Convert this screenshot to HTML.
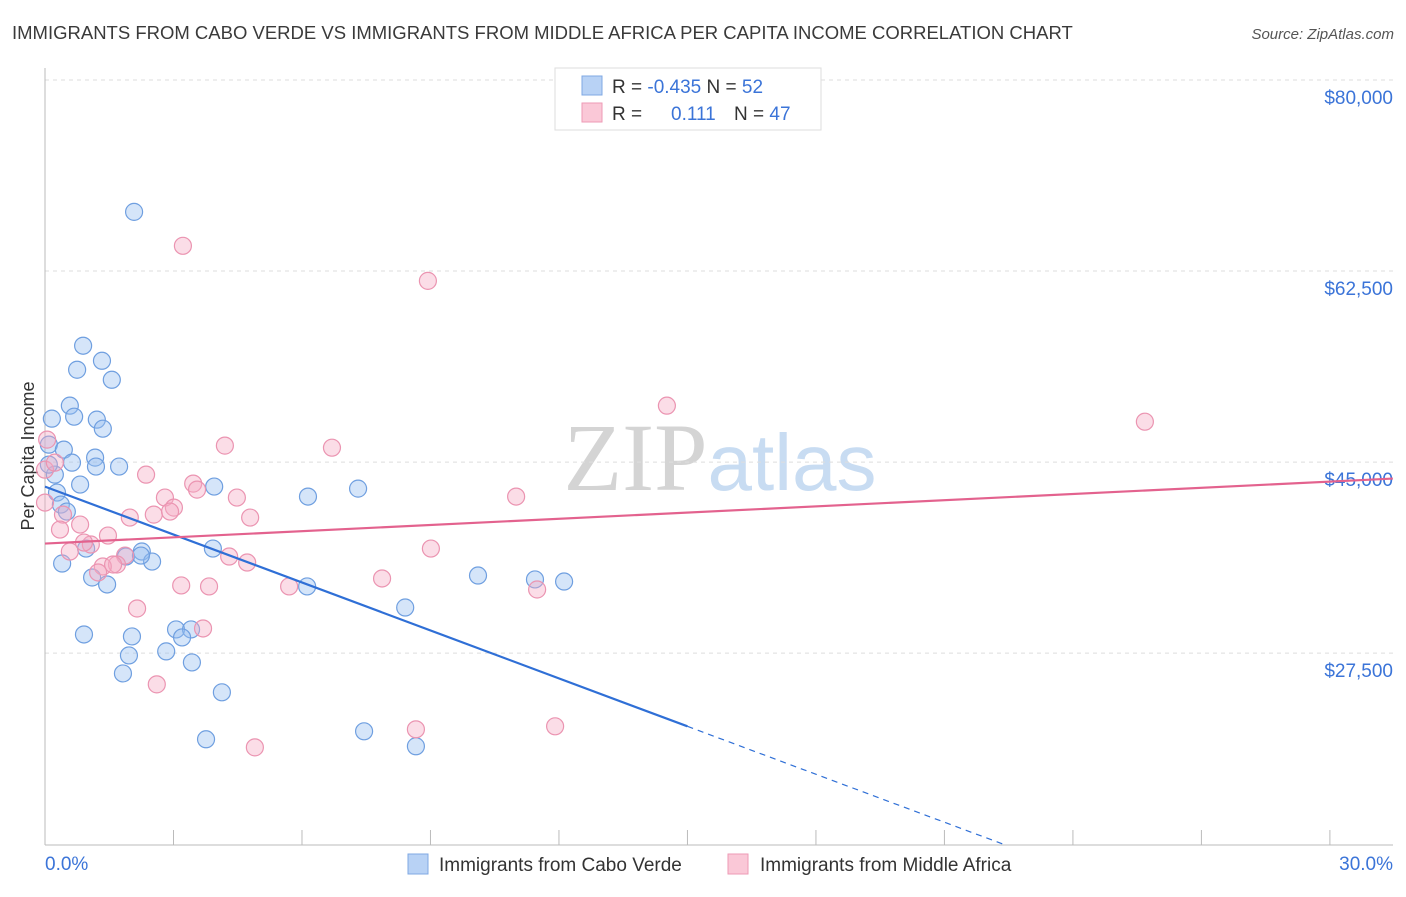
<!DOCTYPE html>
<html><head><meta charset="utf-8"><style>
body{margin:0;background:#fff;font-family:"Liberation Sans",sans-serif;}
svg text{font-family:"Liberation Sans",sans-serif;}
</style></head><body>
<svg id="chart" width="1406" height="892" viewBox="0 0 1406 892" xmlns="http://www.w3.org/2000/svg">
<text x="12" y="39" font-size="18.5" fill="#3a3a3a">IMMIGRANTS FROM CABO VERDE VS IMMIGRANTS FROM MIDDLE AFRICA PER CAPITA INCOME CORRELATION CHART</text>
<text x="1394" y="39" font-size="15" fill="#555" font-style="italic" text-anchor="end">Source: ZipAtlas.com</text>
<text x="720" y="490" font-size="96" text-anchor="middle"><tspan fill="#d4d4d4" font-family="Liberation Serif">ZIP</tspan><tspan fill="#c8dcf2" font-size="80">atlas</tspan></text>
<text transform="translate(34,456) rotate(-90)" font-size="18" fill="#333" text-anchor="middle">Per Capita Income</text>
<g id="grid"></g><g id="axes"></g><g id="pts"></g><g id="lines"></g>
<g>
<rect x="555" y="68" width="266" height="62" fill="#fff" stroke="#ddd"/>
<rect x="582" y="76" width="20" height="19" fill="#b8d2f5" stroke="#7fa8e3"/>
<rect x="582" y="103" width="20" height="19" fill="#fac8d7" stroke="#ee9ab5"/>
<text x="612" y="93" font-size="19" fill="#333">R = <tspan fill="#3b74d8">-0.435</tspan>   N = <tspan fill="#3b74d8">52</tspan></text>
<text x="612" y="120" font-size="19" fill="#333">R = <tspan fill="#3b74d8" x="671">0.111</tspan><tspan x="734">N = </tspan><tspan fill="#3b74d8">47</tspan></text>
</g>
<g>
<rect x="408" y="854" width="20" height="20" fill="#b8d2f5" stroke="#7fa8e3"/>
<text x="439" y="871" font-size="19" fill="#333">Immigrants from Cabo Verde</text>
<rect x="728" y="854" width="20" height="20" fill="#fac8d7" stroke="#ee9ab5"/>
<text x="760" y="871" font-size="19" fill="#333">Immigrants from Middle Africa</text>
</g>
</svg>
<script>
const yTicks=[80000,62500,45000,27500];
const yTickLabels=["$80,000","$62,500","$45,000","$27,500"];
const xTicks=[0,3,6,9,12,15,18,21,24,27,30];
const blueX=[2.08,0.89,1.33,0.75,1.56,0.58,0.68,0.16,1.21,1.35,0.09,0.44,0.63,1.17,1.19,1.73,0.23,0.82,0.28,0.37,0.51,0.09,6.14,7.31,3.95,0.96,3.92,1.89,2.26,2.50,0.40,1.10,1.45,2.24,6.12,10.11,11.44,12.12,8.41,0.91,2.03,3.06,3.41,3.20,1.96,2.83,3.43,1.82,4.13,3.76,7.45,8.66];
const blueY=[67920,55660,54280,53460,52540,50170,49160,48980,48890,48060,46600,46140,44950,45410,44590,44590,43850,42940,42210,41110,40470,44770,41840,42570,42760,37080,37080,36350,36810,35890,35710,34430,33790,36440,33610,34610,34250,34060,31680,29210,29030,29670,29670,28940,27290,27660,26650,25640,23910,19610,20340,18970];
const pinkX=[3.22,8.94,14.52,25.68,4.20,6.70,0.0,2.36,0.23,3.46,2.80,3.55,4.48,11.0,3.01,2.54,2.92,0.42,4.79,1.98,0.82,0.35,1.47,0.58,1.07,4.30,4.72,1.87,1.68,1.35,1.24,3.18,3.83,5.70,7.87,9.01,11.49,2.15,3.69,2.61,8.66,11.91,4.90,0.0,0.91,1.59,0.05];
const pinkY=[64810,61600,50170,48700,46510,46320,44310,43850,44950,43030,41750,42480,41750,41840,40830,40190,40470,40190,39920,39920,39280,38820,38270,36810,37450,36350,35800,36440,35620,35440,34890,33700,33610,33610,34340,37080,33330,31590,29760,24640,20520,20800,18870,41290,37630,35620,47060];
const blueFit=[42755,20795];const blueFitEnd=15;const blueDashEnd=22.4;
const pinkFit=[37540,43490];const pinkFitEnd=31.47;
const X=p=>45+p*42.83;
const Y=v=>80+(80000-v)/91.6;
const NS="http://www.w3.org/2000/svg";
function mk(t,a,parent){const e=document.createElementNS(NS,t);for(const k in a)e.setAttribute(k,a[k]);document.getElementById(parent).appendChild(e);return e;}
yTicks.forEach((v,i)=>{
 const l=mk('line',{x1:45,x2:1393,y1:Y(v),y2:Y(v),stroke:'#ddd','stroke-dasharray':'4,4'},'grid');
 
 
 const t=mk('text',{x:1393,y:Y(v)+24,'font-size':19,fill:'#3b74d8','text-anchor':'end'},'axes');
 t.textContent=yTickLabels[i];
 
 
});
const ax=mk('line',{x1:45,x2:45,y1:68,y2:845,stroke:'#bbb'},'axes');


const bx=mk('line',{x1:45,x2:1393,y1:845,y2:845,stroke:'#bbb'},'axes');


xTicks.forEach(p=>{
 const t=mk('line',{x1:X(p),x2:X(p),y1:830,y2:845,stroke:'#bbb'},'axes');
 
 
});
const xl0=mk('text',{x:45,y:870,'font-size':19,fill:'#3b74d8'},'axes');xl0.textContent=xTicks[0].toFixed(1)+'%';


const xl1=mk('text',{x:1393,y:870,'font-size':19,fill:'#3b74d8','text-anchor':'end'},'axes');xl1.textContent=xTicks[xTicks.length-1].toFixed(1)+'%';


blueX.forEach((p,i)=>{
 const c=mk('circle',{cx:X(p),cy:Y(blueY[i]),r:8.5,fill:'rgba(150,190,240,0.4)',stroke:'#6f9fe0','stroke-width':1.2},'pts');
 
 
});
pinkX.forEach((p,i)=>{
 const c=mk('circle',{cx:X(p),cy:Y(pinkY[i]),r:8.5,fill:'rgba(245,170,195,0.4)',stroke:'#eb94b1','stroke-width':1.2},'pts');
 
 
});
const slope=(blueFit[1]-blueFit[0])/blueFitEnd;
const bl=mk('line',{x1:X(0),y1:Y(blueFit[0]),x2:X(blueFitEnd),y2:Y(blueFit[1]),stroke:'#2f6fd6','stroke-width':2.2},'lines');


const bd=mk('line',{x1:X(blueFitEnd),y1:Y(blueFit[1]),x2:X(blueDashEnd),y2:Y(blueFit[0]+slope*blueDashEnd),stroke:'#2f6fd6','stroke-width':1.2,'stroke-dasharray':'6,5'},'lines');


const pl=mk('line',{x1:X(0),y1:Y(pinkFit[0]),x2:X(pinkFitEnd),y2:Y(pinkFit[1]),stroke:'#e3628e','stroke-width':2.2},'lines');


</script>
</body></html>
